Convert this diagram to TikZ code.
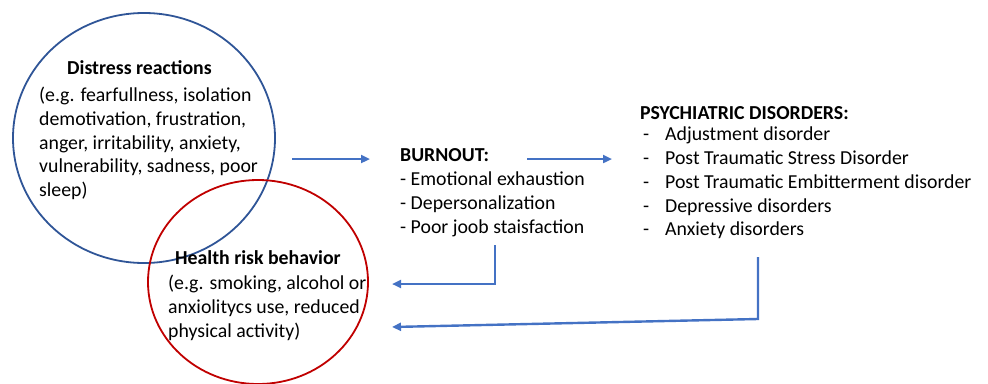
\documentclass[tikz,border=0pt]{standalone}
\usepackage{fontspec}
\setmainfont{Carlito}
\usetikzlibrary{arrows.meta,shapes.geometric}
\definecolor{cblue}{HTML}{2F5597}
\definecolor{cred}{HTML}{C00000}
\definecolor{carrow}{HTML}{4472C4}
\begin{document}
\begin{tikzpicture}[x=1pt,y=-1pt,
  txt/.style={inner sep=0pt, align=left, anchor=north west, font=\fontsize{19.8}{23.7}\selectfont},
  ttl/.style={inner sep=0pt, anchor=north west, font=\fontsize{19.8}{23.7}\selectfont\bfseries},
  ring/.style={ellipse, inner sep=0pt, line width=1.8pt},
  flow/.style={draw=carrow, line width=2.4pt, -{Triangle[length=9pt,width=8pt]}},
]
\useasboundingbox (0,0) rectangle (988,383);
% circles
\node[ring, draw=cblue, minimum width=262pt, minimum height=250pt] (distress) at (144,138) {};
\node[ring, draw=cred, minimum width=220pt, minimum height=204pt] (health) at (258,282) {};
% texts
\node[ttl] (dtitle) at (67,60) {Distress reactions};
\node[txt] (dbody) at (39,87) {(e.g. fearfullness, isolation\\demotivation, frustration,\\anger, irritability, anxiety,\\vulnerability, sadness, poor\\sleep)};
\node[ttl] (htitle) at (175,250) {Health risk behavior};
\node[txt] (hbody) at (168,275) {(e.g. smoking, alcohol or\\anxiolitycs use, reduced\\physical activity)};
\node[ttl] (btitle) at (400,148) {BURNOUT:};
\node[txt] (bbody) at (400,172) {- Emotional exhaustion\\- Depersonalization\\- Poor joob staisfaction};
\node[ttl] (ptitle) at (640,106) {PSYCHIATRIC DISORDERS:};
\node[txt] (pbody) at (643,127) {\makebox[22pt][l]{-}Adjustment disorder\\\makebox[22pt][l]{-}Post Traumatic Stress Disorder\\\makebox[22pt][l]{-}Post Traumatic Embitterment disorder\\\makebox[22pt][l]{-}Depressive disorders\\\makebox[22pt][l]{-}Anxiety disorders};
% connector points
\coordinate (a1s) at (292,159);
\coordinate (a1e) at (370,159);
\coordinate (a2s) at (527,159);
\coordinate (a2e) at (612,159);
\coordinate (b1) at (495,245);
\coordinate (b2) at (495,284);
\coordinate (b3) at (392,284);
\coordinate (c1) at (758,257);
\coordinate (c2) at (758,319);
\coordinate (c3) at (392,327);
\draw[flow] (a1s) -- (a1e);
\draw[flow] (a2s) -- (a2e);
\draw[flow] (b1) -- (b2) -- (b3);
\draw[flow] (c1) -- (c2) -- (c3);
\end{tikzpicture}
\end{document}
